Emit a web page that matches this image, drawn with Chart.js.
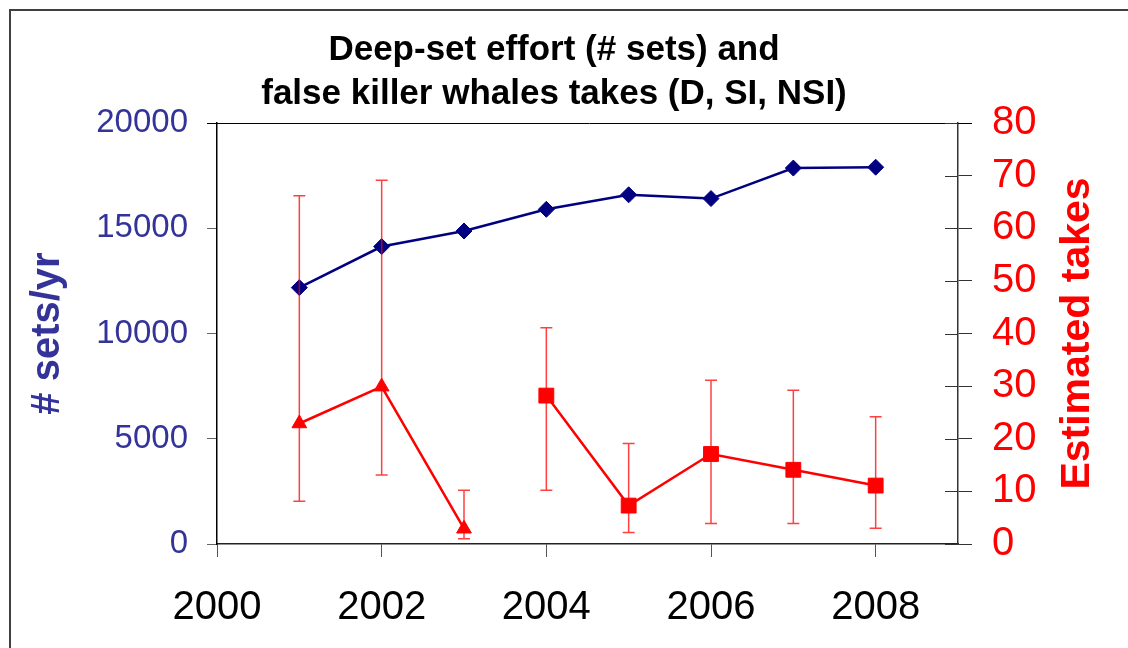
<!DOCTYPE html>
<html>
<head>
<meta charset="utf-8">
<script src="https://cdn.jsdelivr.net/npm/chart.js@4/dist/chart.umd.min.js"></script>
<style>
  html, body { margin: 0; padding: 0; background: #fff; }
  canvas { display: block; }
</style>
</head>
<body>
<canvas id="myChart" width="1128" height="648"></canvas>
<script>
// deep-set effort and false killer whale takes
const years = [2001, 2002, 2003, 2004, 2005, 2006, 2007, 2008];
const setsPerYear = [12180, 14130, 14870, 15900, 16590, 16410, 17860, 17900];
const takes = [22.9, 29.9, 2.9, 28.2, 7.3, 17.1, 14.1, 11.1];
const takesLow = [8.1, 13.1, 1.0, 10.2, 2.2, 3.9, 3.9, 3.0];
const takesHigh = [66.2, 69.1, 10.2, 41.1, 19.1, 31.1, 29.2, 24.2];
const xTicks = [2000, 2002, 2004, 2006, 2008];
const splitYear = 2004; // triangles before, squares from here on

const FONT = "'Liberation Sans', Arial, sans-serif";
const ctx = document.getElementById('myChart').getContext('2d');

const pts = (ys) => years.map((yr, i) => ({x: yr, y: ys[i]}));
const early = pts(takes).filter(p => p.x < splitYear);
const late = pts(takes).filter(p => p.x >= splitYear);

// frame, top border, inner right ticks, right title
const extras = {
    id: 'extras',
    afterDraw(chart) {
        const c = chart.ctx, a = chart.chartArea;
        const y2 = chart.scales.y2;
        c.save();
        c.strokeStyle = '#404040';
        c.lineWidth = 2;
        c.strokeRect(10, 10, 1200, 700);

        c.strokeStyle = '#000';
        c.lineWidth = 1;
        c.beginPath();
        c.moveTo(a.left - 10, a.top + 0.5);
        c.lineTo(a.right + 14, a.top + 0.5);
        c.stroke();

        c.strokeStyle = '#333';
        c.beginPath();
        y2.ticks.forEach(t => {
            const py = Math.round(y2.getPixelForValue(t.value)) + 0.5;
            c.moveTo(a.right - 13, py);
            c.lineTo(a.right, py);
        });
        c.stroke();

        c.translate(1078, (a.top + a.bottom) / 2);
        c.rotate(-Math.PI / 2);
        c.textAlign = 'center';
        c.textBaseline = 'middle';
        c.font = 'bold 41px ' + FONT;
        c.fillStyle = '#ff0000';
        c.fillText('Estimated takes', 0, 0);
        c.restore();
    }
};

// error bars on the takes
const errorBars = {
    id: 'errorBars',
    afterDatasetsDraw(chart) {
        const c = chart.ctx;
        const xs = chart.scales.x, ys = chart.scales.y2;
        c.save();
        c.strokeStyle = 'rgba(255,0,0,0.75)';
        c.lineWidth = 1.5;
        years.forEach((yr, i) => {
            const px = xs.getPixelForValue(yr);
            const lo = ys.getPixelForValue(takesLow[i]);
            const hi = ys.getPixelForValue(takesHigh[i]);
            c.beginPath();
            c.moveTo(px, lo); c.lineTo(px, hi);
            c.moveTo(px - 6, lo); c.lineTo(px + 6, lo);
            c.moveTo(px - 6, hi); c.lineTo(px + 6, hi);
            c.stroke();
        });
        c.restore();
    }
};

new Chart(ctx, {
    type: 'line',
    data: {
        datasets: [{
            label: 'sets',
            data: pts(setsPerYear),
            yAxisID: 'y',
            borderColor: '#000080',
            backgroundColor: '#000080',
            borderWidth: 2.5,
            pointStyle: 'rectRot',
            pointRadius: 8,
            pointBorderWidth: 1
        }, {
            label: 'takes early',
            data: early,
            yAxisID: 'y2',
            borderColor: '#ff0000',
            backgroundColor: '#ff0000',
            borderWidth: 2.5,
            pointStyle: 'triangle',
            pointRadius: 8.5,
            pointBorderWidth: 1
        }, {
            label: 'takes late',
            data: late,
            yAxisID: 'y2',
            borderColor: '#ff0000',
            backgroundColor: '#ff0000',
            borderWidth: 2.5,
            pointStyle: 'rect',
            pointRadius: 10.5,
            pointBorderWidth: 1
        }]
    },
    options: {
        responsive: false,
        animation: false,
        devicePixelRatio: 1,
        layout: { padding: { left: 0, right: 20, top: 0, bottom: 0 } },
        plugins: {
            legend: { display: false },
            tooltip: { enabled: false },
            title: {
                display: true,
                text: ['Deep-set effort (# sets) and', 'false killer whales takes (D, SI, NSI)'],
                color: '#000',
                font: { family: FONT, size: 35, weight: 'bold', lineHeight: 1.243 },
                padding: { top: 29, bottom: 7 }
            }
        },
        scales: {
            x: {
                type: 'linear',
                min: 2000,
                max: 2009,
                afterBuildTicks: s => { s.ticks = xTicks.map(v => ({value: v})); },
                afterFit: s => { s.height = 104; },
                ticks: {
                    color: '#000',
                    font: { family: FONT, size: 40 },
                    padding: 27,
                    maxRotation: 0,
                    callback: v => String(v)
                },
                grid: { drawOnChartArea: false, tickLength: 13, color: '#555' },
                border: { color: '#222', width: 1.5 }
            },
            y: {
                position: 'left',
                min: 0,
                max: 20000,
                afterFit: s => { s.width = 217; },
                ticks: {
                    stepSize: 5000,
                    color: '#333399',
                    font: { family: FONT, size: 33 },
                    padding: 19,
                    callback: v => String(v)
                },
                grid: { drawOnChartArea: false, tickLength: 10, color: '#666' },
                border: { color: '#000', width: 1.5 },
                title: {
                    display: true,
                    text: '# sets/yr',
                    color: '#333399',
                    font: { family: FONT, size: 40, weight: 'bold' },
                    padding: { top: 24, bottom: 0 }
                }
            },
            y2: {
                position: 'right',
                min: 0,
                max: 80,
                afterFit: s => { s.width = 150; },
                ticks: {
                    stepSize: 10,
                    color: '#ff0000',
                    font: { family: FONT, size: 40 },
                    padding: 20
                },
                grid: { drawOnChartArea: false, tickLength: 14, color: '#333' },
                border: { color: '#333', width: 1.5 }
            }
        }
    },
    plugins: [errorBars, extras]
});
</script>
</body>
</html>
